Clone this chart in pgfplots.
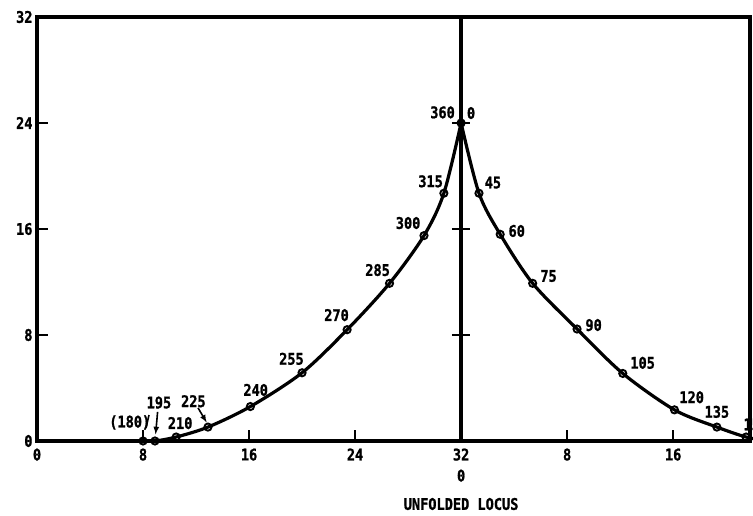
\documentclass[border=0pt]{standalone}
\usepackage{fontspec}
\setmainfont{DejaVu Sans Mono}[FakeStretch=0.85, BoldFeatures={FakeBold=1.2}]
\usepackage{pgfplots}
\pgfplotsset{compat=1.18}
\begin{document}
\begin{tikzpicture}[x=1pt,y=1pt]
\path[use as bounding box, clip] (0,0) rectangle (753,516);
\begin{axis}[
  at={(37pt,75pt)}, anchor=south west,
  scale only axis, width=713pt, height=424pt,
  xmin=0, xmax=53.8, ymin=0, ymax=32,
  axis line style={line width=3.6pt},
  tick align=inside, tick pos=left,
  major tick length=11pt,
  tick style={line width=1.8pt, black},
  xtick={0,8,16,24,32,40,48},
  xticklabels={0,8,16,24,{32\\0},8,16},
  ytick={0,8,16,24,32},
  /pgf/number format/assume math mode=true,
  ticklabel style={font=\fontsize{16}{21}\selectfont\bfseries},
  xticklabel style={align=center, yshift=-4pt},
  yticklabel style={xshift=-1pt},
  clip=false,
]
% vertical reference line at 32
\addplot[line width=3.4pt] coordinates {(32,0) (32,32)};
\draw[line width=2pt] (axis cs:31.3,8) -- (axis cs:32.7,8);
\draw[line width=2pt] (axis cs:31.3,16) -- (axis cs:32.7,16);
\draw[line width=2pt] (axis cs:31.3,24) -- (axis cs:32.7,24);
% left branch
\addplot[line width=3.2pt, smooth, tension=0.5] coordinates {
 (8,0) (8.9,0) (10.5,0.3) (12.9,1.05) (16.1,2.6) (20,5.15) (23.4,8.4)
 (26.6,11.9) (29.2,15.5) (30.7,18.7) (32,24)};
% right branch
\addplot[line width=3.2pt, smooth, tension=0.5] coordinates {
 (32,24) (33.35,18.7) (34.95,15.6) (37.4,11.9) (40.75,8.45) (44.2,5.1)
 (48.1,2.35) (51.3,1.05) (53.5,0.3) (55.1,0)};
% markers
\addplot[only marks, mark=o, mark size=3.6pt, mark options={line width=1.9pt, fill=white, draw=black}] coordinates {
 (8,0) (8.9,0) (10.5,0.3) (12.9,1.05) (16.1,2.6) (20,5.15) (23.4,8.4)
 (26.6,11.9) (29.2,15.5) (30.7,18.7) (32,24)
 (33.35,18.7) (34.95,15.6) (37.4,11.9) (40.75,8.45) (44.2,5.1)
 (48.1,2.35) (51.3,1.05) (53.5,0.3)};
% labels
\begin{scope}[every node/.style={font=\fontsize{16}{18}\selectfont\bfseries, inner sep=0pt}]
\node at (axis cs:7.0,1.4) {(180)};
\node at (axis cs:9.2,2.9) {195};
\node at (axis cs:10.8,1.35) {210};
\node at (axis cs:11.8,3.0) {225};
\node at (axis cs:16.5,3.85) {240};
\node at (axis cs:19.2,6.2) {255};
\node at (axis cs:22.6,9.5) {270};
\node at (axis cs:25.7,12.9) {285};
\node at (axis cs:28.0,16.45) {300};
\node at (axis cs:29.7,19.6) {315};
\node at (axis cs:30.6,24.8) {360};
\node at (axis cs:32.75,24.75) {0};
\node at (axis cs:34.4,19.5) {45};
\node at (axis cs:36.2,15.85) {60};
\node at (axis cs:38.6,12.45) {75};
\node at (axis cs:42.0,8.75) {90};
\node at (axis cs:45.7,5.9) {105};
\node at (axis cs:49.4,3.3) {120};
\node at (axis cs:51.3,2.2) {135};
\node[anchor=west] at (axis cs:53.3,1.25) {150};
\node at (axis cs:32,0) [yshift=-63pt] {UNFOLDED LOCUS};
\end{scope}
\draw[line width=1.6pt] (axis cs:8.45,1.96) -- (axis cs:8.23,1.0);
\draw[line width=1.6pt, -latex] (axis cs:9.1,2.2) -- (axis cs:8.95,0.5);
\draw[line width=1.6pt, -latex] (axis cs:12.15,2.5) -- (axis cs:12.8,1.4);
\end{axis}
\end{tikzpicture}
\end{document}
